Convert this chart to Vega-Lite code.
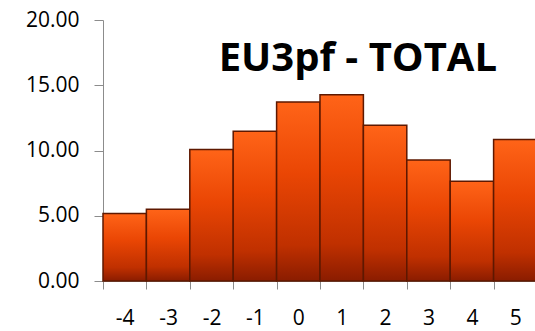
{
  "$schema": "https://vega.github.io/schema/vega-lite/v6.json",
  "autosize": "none",
  "padding": {"left": 103, "top": 20, "right": 0, "bottom": 50},
  "width": 434,
  "height": 261,
  "background": "white",
  "title": {
    "text": "EU3pf - TOTAL",
    "anchor": "end",
    "frame": "group",
    "orient": "top",
    "offset": 0,
    "baseline": "alphabetic",
    "dx": -40,
    "dy": 102,
    "font": "Open Sans",
    "fontSize": 40,
    "fontWeight": "bold",
    "color": "#000000"
  },
  "data": {
    "values": [
      {"bin": -4, "value": 5.18},
      {"bin": -3, "value": 5.5},
      {"bin": -2, "value": 10.07},
      {"bin": -1, "value": 11.47},
      {"bin": 0, "value": 13.72},
      {"bin": 1, "value": 14.28},
      {"bin": 2, "value": 11.93},
      {"bin": 3, "value": 9.28},
      {"bin": 4, "value": 7.65},
      {"bin": 5, "value": 10.84}
    ]
  },
  "mark": {
    "type": "bar",
    "stroke": "#5E1800",
    "strokeWidth": 1.5,
    "color": {
      "gradient": "linear",
      "x1": 0, "y1": 0, "x2": 0, "y2": 1,
      "stops": [
        {"offset": 0, "color": "#FF6418"},
        {"offset": 0.4, "color": "#EA4604"},
        {"offset": 0.8, "color": "#C03000"},
        {"offset": 1, "color": "#8A1C00"}
      ]
    }
  },
  "encoding": {
    "x": {
      "field": "bin",
      "type": "ordinal",
      "scale": {"paddingInner": 0, "paddingOuter": 0},
      "axis": {
        "title": null,
        "labelAngle": 0,
        "tickBand": "extent",
        "domainColor": "#8C8C8C",
        "tickColor": "#8C8C8C",
        "tickSize": 8,
        "labelPadding": 18,
        "labelFont": "Open Sans",
        "labelFontSize": 21,
        "labelColor": "#000000"
      }
    },
    "y": {
      "field": "value",
      "type": "quantitative",
      "scale": {"domain": [0, 20], "nice": false},
      "axis": {
        "title": null,
        "values": [0, 5, 10, 15, 20],
        "format": ".2f",
        "grid": false,
        "domainColor": "#8C8C8C",
        "tickColor": "#8C8C8C",
        "tickSize": 9,
        "labelPadding": 15,
        "labelFont": "Open Sans",
        "labelFontSize": 21,
        "labelColor": "#000000"
      }
    }
  },
  "config": {"view": {"stroke": null}}
}
